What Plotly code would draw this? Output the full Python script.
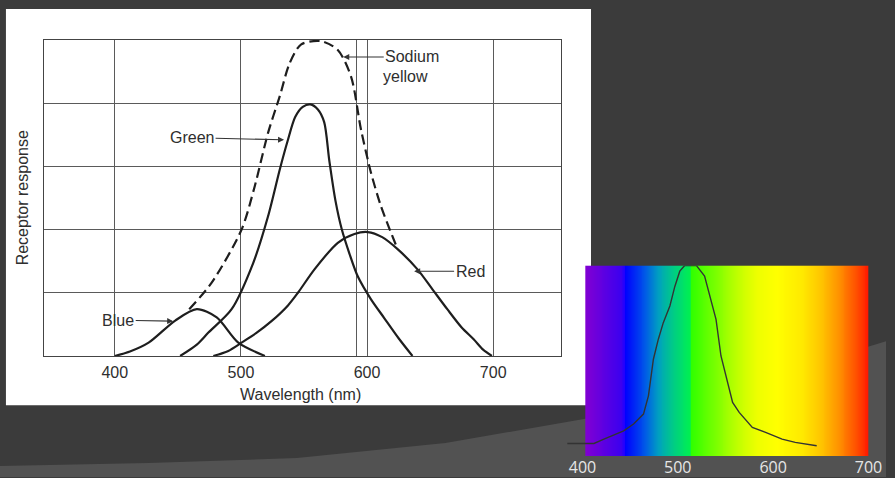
import numpy as np
import plotly.graph_objects as go

# ---------------- data ----------------
blue_nm = [400, 412, 426.8, 447.9, 465, 480.8, 497.9, 519]
blue_resp = [0, 0.07, 0.21, 0.56, 0.74, 0.61, 0.21, 0.0]

green_nm = [451.8, 465, 474.2, 492.6, 509.7, 521.5, 530.8, 537, 543, 549, 555, 561, 566,
            570, 575, 580, 586, 592.6, 603, 613.6, 625, 636]
green_resp = [0, 0.18, 0.37, 0.74, 1.47, 2.21, 2.95, 3.40, 3.78, 3.94, 3.98, 3.90, 3.70,
              3.10, 2.45, 2.0, 1.62, 1.26, 0.9, 0.6, 0.28, 0.0]

red_nm = [478.1, 490, 500.5, 512, 524.2, 537.3, 545.2, 558.3, 576.8, 590, 600.5, 612,
          624.2, 640, 652, 663.6, 675, 684.7, 692, 699]
red_resp = [0, 0.08, 0.21, 0.36, 0.55, 0.80, 1.0, 1.37, 1.79, 1.93, 1.96, 1.88,
            1.69, 1.37, 1.05, 0.74, 0.45, 0.26, 0.1, 0.0]

sodium_nm = [459, 476.8, 500.5, 511, 521.5, 530.8, 538.6, 547.8, 563.6, 576.8, 587.3,
             595.2, 603.1, 611, 618, 624.2]
sodium_resp = [0.74, 1.16, 2.0, 2.69, 3.53, 4.11, 4.63, 4.93, 4.98, 4.84, 4.42,
               3.58, 2.9, 2.37, 2.0, 1.69]

SODIUM_LINE_NM = 592
main_ticks = [400, 500, 600, 700]

# inset: measured curve over the spectrum strip
inset_nm = [384.1, 412.1, 422.5, 432.9, 443.2, 453.6, 464.0, 469.2, 474.4, 479.6, 484.8,
            491.7, 496.9, 502.1, 507.3, 513.0, 519.4, 528.1, 534.9, 540.1, 545.3, 552.3,
            557.5, 564.4, 578.2, 592.1, 609.4, 623.2, 645.7]
inset_resp = [0.066, 0.066, 0.089, 0.11, 0.132, 0.168, 0.22, 0.316, 0.508, 0.613, 0.70,
              0.787, 0.89, 0.97, 1.0, 1.0, 1.0, 0.944, 0.822, 0.717, 0.525, 0.386,
              0.281, 0.229, 0.15, 0.124, 0.089, 0.072, 0.054]
inset_ticks = [400, 500, 600, 700]

# ---------------- styling ----------------
W, H = 895, 478
BG = "#3b3b3b"
INK = "#1e1e1e"
TXT = "#2e2e2e"
FONT = "Liberation Sans, Arial, Helvetica, sans-serif"

def px_x(x):
    return x / W

def px_y(y):
    return 1 - y / H

fig = go.Figure()

line_style = dict(color=INK, width=2.2, shape="spline", smoothing=0.8)
fig.add_trace(go.Scatter(x=blue_nm, y=blue_resp, mode="lines", line=line_style,
                         hoverinfo="skip", xaxis="x", yaxis="y"))
fig.add_trace(go.Scatter(x=green_nm, y=green_resp, mode="lines", line=line_style,
                         hoverinfo="skip", xaxis="x", yaxis="y"))
fig.add_trace(go.Scatter(x=red_nm, y=red_resp, mode="lines", line=line_style,
                         hoverinfo="skip", xaxis="x", yaxis="y"))
fig.add_trace(go.Scatter(x=sodium_nm, y=sodium_resp, mode="lines",
                         line=dict(color=INK, width=2.2, dash="10px,5px", shape="spline", smoothing=0.8),
                         hoverinfo="skip", xaxis="x", yaxis="y"))

# spectrum gradient (inset)
spec_lo, spec_hi = 403, 700
edges = np.arange(spec_lo, spec_hi + 1)
centers = edges[:-1] + 0.5
stops = [(402.8, "#8200d2"), (441.2, "#3a00f0"), (444.8, "#2000ff"), (445.3, "#0000ff"),
         (465.8, "#0058e8"), (479.6, "#00a0c0"), (496.9, "#00d080"), (513.3, "#00f050"),
         (514.2, "#30ff00"), (541.9, "#80ff00"), (562.7, "#c0ff00"), (583.4, "#eeff00"),
         (604.2, "#ffff00"), (631.9, "#ffe800"), (652.7, "#ffc000"), (669.6, "#ff9000"),
         (687.3, "#ff5000"), (700, "#ff1800")]
cs = []
for nm, c in stops:
    p = min(max((nm - spec_lo) / (spec_hi - spec_lo), 0), 1)
    cs.append([p, c])
cs[0][0] = 0.0
cs[-1][0] = 1.0
fig.add_trace(go.Heatmap(x=edges, y=[0, 1], z=[centers], colorscale=cs, zmin=spec_lo, zmax=spec_hi,
                         showscale=False, hoverinfo="skip", xaxis="x2", yaxis="y2"))
fig.add_trace(go.Scatter(x=inset_nm, y=inset_resp, mode="lines",
                         line=dict(color="#333333", width=1.4),
                         hoverinfo="skip", xaxis="x2", yaxis="y2"))

# main axes geometry (pixels)
mx0, mx1, my0, my1 = 44, 567, 40, 356.7
# inset geometry
ix0, ix1, iy0, iy1 = 572, 882, 266, 457

grid_ticks = sorted(main_ticks + [SODIUM_LINE_NM])
grid_text = [str(t) if t in main_ticks else "" for t in grid_ticks]

fig.update_layout(
    width=W, height=H, autosize=False,
    margin=dict(l=0, r=0, t=0, b=0),
    paper_bgcolor=BG, plot_bgcolor="rgba(0,0,0,0)",
    showlegend=False,
    font=dict(family=FONT, color=TXT, size=16),
    xaxis=dict(domain=[px_x(mx0), px_x(mx1)], range=[343.5, 754.0],
               tickvals=grid_ticks, ticktext=grid_text, ticks="",
               showgrid=True, gridcolor="#5a5a5a", gridwidth=1,
               showline=True, linecolor="#444444", linewidth=1.3, mirror=True,
               zeroline=False, tickfont=dict(size=16, color=TXT, family=FONT),
               ticklabelstandoff=2, fixedrange=True),
    yaxis=dict(domain=[px_y(my1), px_y(my0)], range=[0, 5], dtick=1, tick0=0,
               showticklabels=False, ticks="",
               showgrid=True, gridcolor="#5a5a5a", gridwidth=1,
               showline=True, linecolor="#444444", linewidth=1.3, mirror=True,
               zeroline=False, fixedrange=True),
    xaxis2=dict(domain=[px_x(ix0), px_x(ix1)], range=[383.0, 704.9], anchor="y2",
                tickvals=inset_ticks, ticks="", showgrid=False, zeroline=False, showline=False,
                tickfont=dict(size=16, color="#e6e6e6", family="Open Sans, sans-serif"),
                ticklabelstandoff=0, fixedrange=True),
    yaxis2=dict(domain=[px_y(iy1), px_y(iy0)], range=[0, 1], anchor="x2",
                visible=False, fixedrange=True),
)

# background decoration: lighter swoosh + white panel of the scanned figure
sw = [(0, 467), (150, 464), (300, 459), (450, 444), (600, 418), (750, 386), (895, 342)]
path = "M " + " L ".join(f"{px_x(x):.4f},{px_y(y):.4f}" for x, y in sw)
path += " L 1,0 L 0,0 Z"
fig.add_shape(type="path", path=path, xref="paper", yref="paper",
              fillcolor="#525252", line=dict(width=0), layer="below")
fig.add_shape(type="rect", xref="paper", yref="paper",
              x0=px_x(6), x1=px_x(597), y0=px_y(406), y1=px_y(9),
              fillcolor="#ffffff", line=dict(width=0), layer="below")

arrow = dict(showarrow=True, arrowhead=2, arrowsize=1.1, arrowwidth=1.1, arrowcolor="#333333",
             font=dict(size=16, color=TXT, family=FONT), xref="x", yref="y")
fig.add_annotation(text="Green", x=534.2, y=3.42, ax=-92, ay=-2, **arrow)
fig.add_annotation(text="Blue", x=446.3, y=0.55, ax=-55, ay=-1, **arrow)
fig.add_annotation(text="Red", x=637.3, y=1.34, ax=56, ay=0, **arrow)
fig.add_annotation(text="Sodium", x=581.1, y=4.73, ax=69, ay=0, **arrow)
fig.add_annotation(text="yellow", xref="paper", yref="paper", x=px_x(385), y=px_y(77),
                   xanchor="left", yanchor="middle", showarrow=False,
                   font=dict(size=16, color=TXT, family=FONT))
fig.add_annotation(text="Wavelength (nm)", xref="paper", yref="paper", x=px_x(304), y=px_y(395),
                   xanchor="center", yanchor="middle", showarrow=False,
                   font=dict(size=16, color=TXT, family=FONT))
fig.add_annotation(text="Receptor response", xref="paper", yref="paper", x=px_x(23), y=px_y(198),
                   xanchor="center", yanchor="middle", showarrow=False, textangle=-90,
                   font=dict(size=16, color=TXT, family=FONT))

fig.write_html("out.html", config={"displayModeBar": False},
               post_script="document.body.style.margin='0';document.body.style.padding='0';"
                           "document.body.style.overflow='hidden';"
                           "document.documentElement.style.background='" + BG + "';")
